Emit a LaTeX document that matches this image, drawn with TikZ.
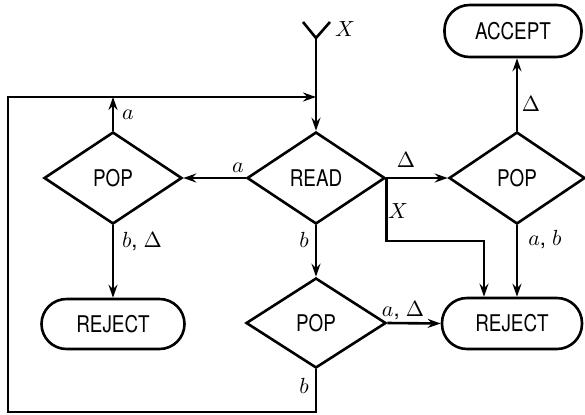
\documentclass[tikz,border=0pt]{standalone}
\usepackage{fontspec}
\setmainfont{TeX Gyre Heros}
\newfontfamily\boxfont[FakeStretch=0.82]{TeX Gyre Heros}
\usetikzlibrary{shapes.geometric,arrows.meta}
\begin{document}
\begin{tikzpicture}[x=0.5pt,y=-0.5pt,line width=1.3pt,
  every node/.style={font=\fontsize{11}{13}\selectfont},
  dec/.style={diamond,draw,line width=1.3pt,inner sep=0pt,minimum width=69pt,minimum height=46pt,font=\boxfont\fontsize{11.5}{13}\selectfont},
  term/.style={rectangle,draw,line width=1.3pt,rounded corners=12.5pt,minimum width=70pt,minimum height=25.5pt,inner sep=0pt,font=\boxfont\fontsize{11.5}{13}\selectfont},
  lab/.style={inner sep=1pt},
  flow/.style={-{Stealth[length=6.5pt,width=4.5pt,inset=2.2pt]}}]
\useasboundingbox (0,0) rectangle (585,414);
% nodes
\node[dec] (read) at (316,178) {READ};
\node[dec] (popL) at (113,178) {POP};
\node[dec,minimum width=68pt] (popR) at (517,178) {POP};
\node[dec,minimum width=70pt,minimum height=45pt] (popB) at (316,323) {POP};
\node[term,minimum width=68.5pt,minimum height=26pt] (accept) at (513,31) {ACCEPT};
\node[term,minimum width=71.5pt,minimum height=25pt] (rejL) at (113,324) {REJECT};
\node[term] (rejR) at (512,323.5) {REJECT};
% coordinates
\coordinate (start) at (316,38);
\coordinate (join) at (316,97);
\coordinate (lbr) at (316,412);
\coordinate (lbl) at (8,412);
\coordinate (ltl) at (8,97);
\coordinate (xc) at (484,241);
% start
\draw (start) -- ++(-13,-16);
\draw (start) -- ++(14,-16);
\node[lab] at (345,29) {$X$};
\draw[flow] (start) -- (read.north);
% read -> popL
\draw[flow] (read.west) -- (popL.east);
\node[lab] at (238,168) {$a$};
% popL -> loop line
\draw[flow] (popL.north) -- (popL.north |- join);
\node[lab] at (128,115) {$a$};
% popL -> rejL
\draw[flow] (popL.south) -- (rejL.north);
\node[lab] at (142,242) {$b$, $\Delta$};
% read -> popR
\draw[flow] (read.east) -- (popR.west);
\node[lab] at (406,160) {$\Delta$};
% read -> rejR via X
\draw[flow] (read.east) |- (xc) -- (xc |- rejR.north);
\node[lab] at (398,211) {$X$};
% popR -> accept
\draw[flow] (popR.north) -- (popR.north |- accept.south);
\node[lab] at (531,104) {$\Delta$};
% popR -> rejR
\draw[flow] (popR.south) -- (popR.south |- rejR.north);
\node[lab] at (545,240) {$a$, $b$};
% read -> popB
\draw[flow] (read.south) -- (popB.north);
\node[lab] at (304,240) {$b$};
% popB -> rejR
\draw[flow] (popB.east) -- (rejR.west);
\node[lab] at (403,311) {$a$, $\Delta$};
% popB loop
\draw[flow] (popB.south) -- (lbr) -- (lbl) -- (ltl) -- (join);
\node[lab] at (304,386) {$b$};
\end{tikzpicture}
\end{document}
